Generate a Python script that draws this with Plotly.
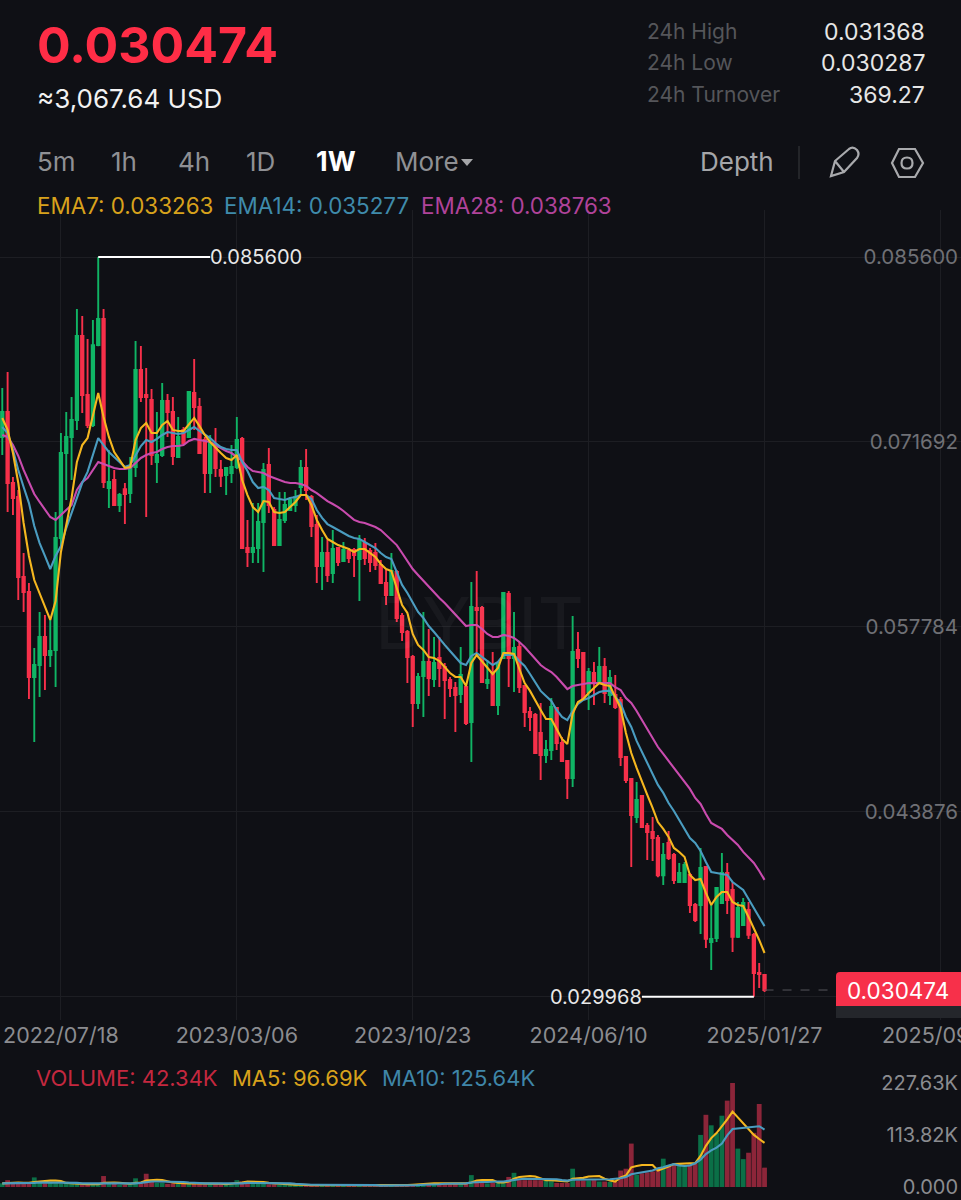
import pandas as pd
import plotly.graph_objects as go
from plotly.subplots import make_subplots

WIDTH = 961
HEIGHT = 1200
FONT = 'Inter'
BG = '#0f1015'
RED = '#f7304a'
GREEN = '#10b565'
VOL_RED = '#8c2539'
VOL_GREEN = '#0b6f47'
EMA7_COLOR = '#f5b71f'
EMA14_COLOR = '#4a9cc0'
EMA28_COLOR = '#c94bae'

# prices are in thousandths, divided by 1000 when plotted
opens = [72.07, 73.95, 68.61, 67.55, 61.54, 60.41, 54.02, 54.92, 57.03, 55.67, 56.05, 64.47, 70.86, 72.07, 73.35, 79.66,
         75.23, 72.97, 78.98, 80.94, 68.23, 68.83, 66.95, 68.15, 67.85, 69.81, 77.11, 75.23, 74.85, 70.19, 70.71, 74.77,
         73.95, 70.56, 72.60, 72.07, 75.38, 74.32, 71.84, 69.36, 71.24, 69.59, 69.21, 69.36, 69.81, 71.92, 63.72, 63.42,
         63.72, 65.68, 69.96, 66.58, 63.94, 65.83, 66.58, 66.95, 68.31, 69.74, 67.55, 65.45, 62.36, 63.34, 61.84, 63.72,
         62.74, 63.49, 63.57, 62.89, 64.09, 63.49, 63.34, 62.44, 61.09, 60.18, 61.91, 58.61, 57.40, 55.52, 52.06, 54.09,
         55.15, 53.87, 55.45, 54.77, 53.79, 53.19, 52.74, 53.26, 50.63, 59.21, 59.21, 53.56, 54.39, 51.91, 55.45, 60.26,
         55.45, 56.27, 53.34, 51.38, 51.16, 49.81, 48.15, 48.53, 51.69, 49.05, 47.70, 46.42, 56.05, 55.82, 52.89, 54.32,
         53.56, 54.77, 52.66, 52.66, 52.29, 48.00, 46.35, 43.49, 45.07, 42.81, 42.36, 41.91, 39.11, 41.53, 40.63, 38.60,
         38.60, 39.13, 36.87, 36.87, 39.73, 34.09, 34.39, 37.02, 39.28, 38.00, 34.47, 35.37, 36.50, 34.62, 31.76, 31.61]
closes = [73.95, 68.61, 67.48, 61.54, 60.41, 54.02, 54.92, 57.03, 55.67, 55.97, 64.47, 70.86, 72.07, 73.35, 79.66, 75.23,
          72.97, 78.98, 80.94, 68.68, 68.68, 66.95, 67.70, 67.78, 69.81, 77.11, 75.08, 75.08, 70.71, 70.71, 74.77, 73.95,
          70.64, 72.07, 71.61, 75.45, 74.32, 70.86, 69.36, 71.61, 69.74, 69.14, 69.74, 69.81, 71.84, 63.72, 63.42, 63.72,
          65.68, 69.59, 66.95, 63.94, 65.83, 66.95, 67.33, 67.55, 69.74, 68.08, 65.37, 62.36, 63.34, 61.69, 63.64, 62.66,
          63.57, 62.97, 63.19, 64.32, 62.97, 62.66, 62.44, 61.09, 60.18, 61.99, 58.46, 57.40, 55.52, 52.06, 54.02, 55.15,
          53.94, 55.07, 54.69, 53.79, 53.19, 52.66, 54.17, 50.56, 59.28, 59.06, 53.64, 53.79, 51.91, 55.00, 60.33, 55.45,
          56.20, 53.26, 51.38, 51.01, 48.30, 48.15, 48.53, 51.76, 49.05, 47.70, 46.42, 55.90, 55.45, 52.44, 54.39, 53.56,
          54.77, 52.81, 53.94, 51.76, 48.00, 46.27, 43.64, 44.77, 42.74, 42.36, 41.91, 39.11, 40.63, 40.40, 38.75, 39.28,
          39.88, 36.87, 35.74, 39.66, 34.32, 34.32, 38.15, 39.28, 37.25, 34.47, 36.65, 37.02, 34.62, 31.76, 31.68, 30.47]
highs = [75.75, 76.96, 69.06, 68.08, 63.34, 61.09, 56.20, 58.91, 58.68, 58.31, 66.43, 72.37, 73.95, 75.08, 81.69, 81.17,
         79.43, 80.87, 85.60, 81.69, 71.09, 69.59, 67.85, 68.61, 70.56, 79.28, 78.91, 77.26, 75.68, 73.95, 76.13, 75.30,
         75.08, 73.57, 72.82, 75.53, 77.93, 75.00, 72.07, 72.22, 72.74, 70.34, 69.81, 71.46, 73.57, 72.07, 65.83, 67.10,
         67.10, 70.11, 71.24, 66.80, 67.93, 67.93, 67.55, 68.08, 70.34, 71.16, 67.70, 66.20, 64.54, 64.32, 65.07, 63.72,
         64.17, 63.72, 63.72, 64.69, 64.47, 63.72, 64.09, 62.82, 62.06, 63.34, 62.06, 58.83, 57.55, 55.67, 54.32, 58.91,
         57.63, 57.03, 57.03, 55.07, 54.02, 53.64, 56.27, 53.56, 61.16, 61.99, 59.36, 55.30, 55.90, 55.15, 60.33, 60.48,
         58.91, 56.65, 53.41, 51.76, 51.31, 52.06, 49.28, 52.44, 51.76, 49.50, 47.78, 58.61, 57.40, 55.82, 54.69, 55.15,
         56.27, 55.45, 54.54, 54.17, 52.51, 48.00, 46.35, 46.12, 45.07, 43.04, 43.49, 42.13, 41.53, 42.43, 40.78, 40.03,
         40.10, 39.28, 37.02, 41.16, 39.73, 36.87, 38.23, 40.78, 40.03, 38.60, 37.10, 37.40, 37.10, 34.77, 32.51, 31.61]
lows = [70.71, 66.43, 66.20, 59.81, 58.91, 52.36, 49.13, 52.51, 53.04, 54.77, 53.26, 63.94, 67.33, 68.83, 72.60, 73.87,
        72.74, 72.82, 78.90, 68.23, 66.73, 66.95, 66.43, 65.52, 67.10, 69.06, 74.70, 66.05, 69.96, 68.61, 70.56, 72.07,
        69.96, 70.49, 71.46, 72.00, 72.60, 70.80, 67.85, 67.85, 69.06, 68.31, 67.70, 68.61, 69.66, 63.72, 62.29, 62.59,
        62.59, 61.92, 66.35, 63.90, 63.90, 65.60, 66.55, 66.43, 67.70, 67.33, 64.54, 61.09, 60.56, 61.16, 61.09, 62.36,
        62.66, 62.59, 61.54, 59.73, 62.44, 61.91, 62.06, 61.01, 59.43, 60.11, 58.16, 56.72, 53.56, 50.26, 51.61, 51.01,
        52.59, 53.26, 53.26, 50.86, 52.51, 49.88, 52.06, 50.41, 47.63, 55.90, 53.56, 53.11, 51.85, 51.16, 55.38, 53.26,
        52.89, 52.81, 50.26, 49.96, 48.27, 46.27, 47.55, 47.78, 48.53, 47.63, 44.84, 45.74, 54.69, 52.36, 51.54, 51.91,
        53.49, 52.06, 51.91, 51.61, 47.33, 46.04, 39.73, 43.04, 42.70, 40.25, 40.18, 38.96, 38.38, 40.25, 38.45, 38.53,
        38.53, 36.27, 35.59, 34.69, 33.64, 31.98, 34.09, 36.95, 36.20, 33.34, 34.39, 35.29, 34.32, 29.97, 30.63, 30.33]

ema7 = [73.50, 72.60, 70.86, 68.61, 65.60, 63.12, 61.31, 60.34, 59.28, 58.31, 59.73, 63.42, 65.45, 67.48, 70.19, 71.46,
        71.99, 73.80, 75.38, 73.57, 72.07, 70.94, 70.34, 69.74, 69.81, 71.84, 72.74, 73.12, 72.37, 72.37, 72.97, 73.27,
        72.60, 72.52, 72.52, 72.97, 73.50, 72.89, 72.22, 71.69, 71.24, 70.86, 70.49, 70.34, 70.71, 68.83, 67.70, 66.80,
        66.43, 67.25, 67.18, 66.43, 66.35, 66.43, 66.80, 67.18, 67.70, 67.70, 66.95, 65.83, 65.07, 64.40, 64.17, 63.94,
        63.79, 63.64, 63.42, 63.64, 63.64, 63.34, 63.04, 62.52, 62.14, 61.99, 60.78, 59.43, 58.83, 57.25, 56.43, 56.05,
        55.52, 55.45, 55.22, 54.77, 54.32, 54.02, 54.02, 53.34, 55.07, 55.67, 55.22, 54.77, 54.24, 54.69, 55.82, 55.82,
        55.75, 54.62, 53.56, 52.97, 52.21, 51.54, 50.86, 50.86, 50.11, 49.36, 48.98, 51.24, 52.14, 52.36, 52.81, 53.19,
        53.56, 53.41, 53.34, 52.51, 51.69, 49.81, 48.30, 47.18, 46.12, 45.15, 44.17, 43.11, 42.59, 41.99, 41.16, 40.86,
        40.48, 39.13, 38.75, 38.83, 37.78, 36.87, 37.47, 37.85, 37.85, 37.10, 36.87, 36.80, 35.97, 35.14, 34.24, 33.26]
ema14 = [72.82, 72.37, 71.09, 69.59, 68.31, 67.10, 65.37, 64.09, 63.12, 62.14, 63.12, 63.87, 65.22, 66.35, 67.63, 68.61,
         69.44, 70.71, 71.99, 71.46, 70.94, 70.56, 70.19, 69.81, 69.96, 70.71, 71.39, 71.84, 71.69, 71.92, 72.22, 72.44,
         72.37, 72.29, 72.37, 72.60, 72.82, 72.52, 72.22, 71.99, 71.61, 71.31, 71.16, 71.09, 71.09, 70.19, 69.51, 68.68,
         68.23, 68.31, 68.08, 67.48, 67.40, 67.33, 67.48, 67.55, 67.70, 67.70, 67.40, 66.58, 65.98, 65.52, 65.30, 65.07,
         64.85, 64.62, 64.47, 64.40, 64.17, 63.94, 63.72, 63.34, 63.04, 62.89, 61.84, 60.94, 60.34, 59.58, 58.91, 58.46,
         57.85, 57.40, 56.88, 56.43, 55.97, 55.52, 55.07, 54.92, 55.60, 55.82, 55.52, 55.22, 54.92, 55.15, 55.67, 55.67,
         55.67, 55.22, 54.85, 54.24, 53.64, 52.97, 52.59, 52.21, 51.54, 51.01, 50.78, 51.46, 51.99, 52.29, 52.44, 52.66,
         52.89, 52.97, 52.97, 52.51, 52.06, 51.01, 50.26, 49.21, 48.38, 47.55, 46.65, 45.90, 45.30, 44.54, 43.94, 43.27,
         42.59, 41.91, 41.53, 40.93, 40.10, 39.35, 39.28, 39.20, 39.13, 38.60, 38.30, 38.00, 37.32, 36.65, 35.97, 35.28]
ema28 = [72.22, 72.07, 71.46, 70.64, 69.59, 68.68, 67.78, 67.18, 66.58, 66.05, 65.83, 66.20, 66.58, 66.95, 68.08, 68.68,
         68.98, 69.59, 70.19, 70.04, 69.89, 69.74, 69.66, 69.66, 69.74, 70.11, 70.49, 70.71, 70.86, 70.94, 71.16, 71.31,
         71.39, 71.39, 71.46, 71.77, 71.92, 71.84, 71.77, 71.69, 71.46, 71.24, 71.01, 70.86, 70.56, 70.26, 69.81, 69.51,
         69.44, 69.36, 69.14, 68.98, 68.83, 68.68, 68.61, 68.61, 68.53, 68.38, 68.08, 67.85, 67.55, 67.25, 67.03, 66.80,
         66.50, 66.20, 65.83, 65.67, 65.60, 65.45, 65.30, 65.07, 64.69, 64.32, 63.94, 63.34, 62.74, 62.14, 61.69, 61.24,
         60.78, 60.41, 59.96, 59.58, 59.13, 58.68, 58.31, 57.85, 57.93, 57.93, 57.63, 57.25, 57.03, 57.03, 57.18, 57.10,
         56.95, 56.65, 56.27, 55.82, 55.37, 54.92, 54.62, 54.39, 54.02, 53.56, 53.11, 53.34, 53.41, 53.49, 53.56, 53.56,
         53.56, 53.56, 53.56, 53.26, 53.04, 52.44, 52.06, 51.46, 50.78, 50.11, 49.36, 48.75, 48.23, 47.70, 47.18, 46.65,
         46.12, 45.60, 44.92, 44.47, 43.72, 43.04, 42.81, 42.59, 42.14, 41.76, 41.39, 40.86, 40.41, 40.03, 39.43, 38.76]

# volume in thousands
volumes = [8, 15, 8, 8, 8, 8, 21, 9, 8, 10, 8, 7, 9, 7, 7, 5, 5, 6, 6, 24, 8, 7, 5, 5, 6, 19, 8, 29, 11, 9, 9, 7,
           8, 8, 7, 9, 8, 7, 6, 7, 6, 6, 7, 6, 15, 12, 11, 10, 9, 8, 6, 6, 5, 5, 4, 5, 5, 4, 4, 3, 3, 3, 3, 3,
           3, 2, 2, 2, 2, 2, 3, 3, 3, 3, 3, 4, 4, 5, 5, 5, 6, 6, 6, 6, 6, 7, 7, 8, 26, 9, 9, 8, 9, 9, 9, 22,
           31, 15, 15, 15, 15, 15, 14, 13, 9, 9, 9, 40, 14, 14, 14, 15, 12, 12, 11, 11, 36, 40, 95, 27, 30, 32, 34, 40,
           62, 48, 50, 52, 47, 50, 52, 114, 158, 135, 118, 156, 189, 227.6, 84, 61, 75, 118.5, 181.7, 42.34]
ma5 = [8, 9, 10, 10, 9, 9, 11, 12, 14, 14, 14, 13, 9, 8, 8, 7, 6, 6, 6, 9, 10, 10, 9, 8, 7, 9, 10, 14, 15, 16, 15, 12,
       10, 9, 8, 8, 8, 8, 8, 7, 7, 7, 6, 7, 8, 10, 12, 12, 12, 11, 9, 8, 7, 6, 5, 5, 5, 4, 4, 4, 4, 3, 3, 3,
       3, 3, 3, 3, 3, 3, 3, 3, 3, 3, 3, 4, 4, 5, 6, 7, 8, 8, 8, 8, 8, 8, 8, 8, 10, 14, 15, 15, 15, 10, 10, 12,
       18, 22, 23, 24, 23, 19, 15, 15, 14, 13, 12, 18, 19, 20, 23, 24, 24, 18, 14, 12, 21, 25, 43, 46, 48, 48, 48, 36,
       40, 45, 50, 51, 52, 52, 52, 68, 90, 107, 118, 132, 148, 165, 152, 140, 126, 114, 105, 96.69]
ma10 = [8, 8, 9, 9, 9, 9, 9, 10, 10, 10, 10, 10, 10, 9, 9, 8, 8, 7, 7, 8, 8, 8, 7, 7, 7, 8, 9, 11, 12, 12, 12, 12,
        12, 11, 11, 10, 9, 9, 8, 8, 8, 8, 7, 7, 8, 8, 9, 9, 9, 9, 9, 9, 8, 8, 8, 7, 6, 6, 5, 5, 5, 5, 5, 5,
        5, 4, 4, 4, 4, 4, 4, 3, 3, 3, 3, 3, 4, 4, 4, 5, 5, 6, 6, 7, 7, 7, 8, 8, 10, 11, 11, 11, 12, 12, 12, 14,
        16, 17, 18, 18, 18, 18, 18, 18, 17, 15, 14, 16, 16, 17, 17, 17, 17, 17, 17, 18, 19, 22, 28, 30, 32, 34, 36, 41,
        43, 47, 50, 47, 46, 47, 52, 60, 72, 80, 86, 95, 113, 127, 128, 129, 130, 132, 133, 125.64]

x_tick_dates = ['2022-07-18', '2023-03-06', '2023-10-23', '2024-06-10', '2025-01-27', '2025-09-15']
x_tick_labels = ['2022/07/18', '2023/03/06', '2023/10/23', '2024/06/10', '2025/01/27', '2025/09/15']
price_ticks = [0.0856, 0.071692, 0.057784, 0.043876, 0.029968]
price_labels = ['0.085600', '0.071692', '0.057784', '0.043876', '']
volume_ticks = [0, 113.82, 227.63]
volume_labels = ['0.000', '113.82K', '227.63K']

high_price = 0.0856
low_price = 0.029968
last_price = 0.030474

dates = pd.date_range(end='2025-01-27', periods=len(closes), freq='7D')


def px(x, y):
    return x / WIDTH, 1 - y / HEIGHT


def label(text, x, y, size, color, anchor='left'):
    xp, yp = px(x, y)
    # annotations carry a little padding, this takes it back out
    shift = {'left': -2, 'right': 2, 'center': 0}[anchor]
    fig.add_annotation(text=text, x=xp, y=yp, xref='paper', yref='paper', xanchor=anchor, yanchor='middle',
                       xshift=shift, showarrow=False, font=dict(family=FONT, size=size, color=color))


def outline(path, color, width=2, fill=None):
    # path is a list of ('M', x, y) style steps given in screen pixels
    parts = []
    for step in path:
        if step[0] == 'Z':
            parts.append('Z')
        else:
            coords = []
            for i in range(1, len(step), 2):
                xp, yp = px(step[i], step[i + 1])
                coords.append('%.5f,%.5f' % (xp, yp))
            parts.append(step[0] + ' '.join(coords))
    fig.add_shape(type='path', path=' '.join(parts), xref='paper', yref='paper',
                  line=dict(color=color, width=width), fillcolor=fill)


fig = make_subplots(rows=2, cols=1, shared_xaxes=True)

fig.add_trace(go.Candlestick(x=dates,
                             open=[v / 1000 for v in opens],
                             high=[v / 1000 for v in highs],
                             low=[v / 1000 for v in lows],
                             close=[v / 1000 for v in closes],
                             increasing=dict(line=dict(color=GREEN, width=1.9), fillcolor=GREEN),
                             decreasing=dict(line=dict(color=RED, width=1.9), fillcolor=RED),
                             whiskerwidth=0, hoverinfo='skip'), row=1, col=1)
for series, color in ((ema28, EMA28_COLOR), (ema14, EMA14_COLOR), (ema7, EMA7_COLOR)):
    fig.add_trace(go.Scatter(x=dates, y=[v / 1000 for v in series], mode='lines',
                             line=dict(color=color, width=2.1), hoverinfo='skip'), row=1, col=1)

bar_colors = [VOL_GREEN if c >= o else VOL_RED for o, c in zip(opens, closes)]
fig.add_trace(go.Bar(x=dates, y=volumes, marker=dict(color=bar_colors, line=dict(width=0)), hoverinfo='skip'),
              row=2, col=1)
fig.add_trace(go.Scatter(x=dates, y=ma5, mode='lines', line=dict(color=EMA7_COLOR, width=2.1), hoverinfo='skip'),
              row=2, col=1)
fig.add_trace(go.Scatter(x=dates, y=ma10, mode='lines', line=dict(color=EMA14_COLOR, width=2.1), hoverinfo='skip'),
              row=2, col=1)

fig.update_layout(width=WIDTH, height=HEIGHT, margin=dict(l=0, r=0, t=0, b=0, autoexpand=False), showlegend=False,
                  paper_bgcolor=BG, plot_bgcolor=BG, boxgap=0.35, bargap=0.1,
                  font=dict(family=FONT))

x_range = ['2022-04-29', '2025-10-12']
fig.update_xaxes(row=1, col=1, range=x_range, rangeslider_visible=False, tickvals=x_tick_dates,
                 ticktext=x_tick_labels, showticklabels=True, ticklabeloverflow='allow', showgrid=True,
                 automargin=False, gridcolor='#1d1e23', gridwidth=1, zeroline=False, showline=False,
                 tickfont=dict(family=FONT, size=21.5, color='#8b8c90'))
fig.update_xaxes(row=2, col=1, range=x_range, showgrid=False, zeroline=False, showline=False,
                 automargin=False, showticklabels=False, tickvals=x_tick_dates)
fig.update_yaxes(row=1, col=1, domain=[0.15, 0.825], range=[0.02822, 0.08914], side='right',
                 tickvals=price_ticks, ticktext=price_labels, ticklabelposition='inside', automargin=False,
                 ticklabeloverflow='allow', showgrid=True, gridcolor='#1d1e23', zeroline=False, showline=False,
                 tickfont=dict(family=FONT, size=20.5, color='#6f7075'))
fig.update_yaxes(row=2, col=1, domain=[1 - 1187 / HEIGHT, 1 - 1075 / HEIGHT], range=[0, 245.1], side='right',
                 tickvals=volume_ticks, ticktext=volume_labels, ticklabelposition='inside', automargin=False,
                 ticklabeloverflow='allow', showgrid=False, zeroline=False, showline=False,
                 tickfont=dict(family=FONT, size=20, color='#8b8c90'))

# high and low markers
fig.add_shape(type='line', xref='x', yref='y', x0=dates[18], x1=dates[18] + pd.Timedelta(weeks=21),
              y0=high_price, y1=high_price, line=dict(color='#ffffff', width=2))
fig.add_shape(type='line', xref='x', yref='y', x0=dates[141], x1=dates[141] - pd.Timedelta(weeks=21),
              y0=low_price, y1=low_price, line=dict(color='#ffffff', width=2))
fig.add_annotation(text='0.085600', x=dates[18] + pd.Timedelta(weeks=21), y=high_price, xref='x', yref='y',
                   xanchor='left', yanchor='middle', showarrow=False, xshift=-2,
                   font=dict(family=FONT, size=20, color='#e8e8e8'))
fig.add_annotation(text='0.029968', x=dates[141] - pd.Timedelta(weeks=21), y=low_price, xref='x', yref='y',
                   xanchor='right', yanchor='middle', showarrow=False, xshift=2,
                   font=dict(family=FONT, size=20, color='#e8e8e8'))

# last price line and tag
fig.add_shape(type='line', xref='x', yref='y', x0=dates[143], x1=dates[143] + pd.Timedelta(weeks=13),
              y0=last_price, y1=last_price, line=dict(color='#55565b', width=1, dash='dash'))
outline([('M', 836, 1006), ('L', 836, 1018), ('L', 961, 1018), ('L', 961, 1006), ('Z',)], '#24262b', 0, '#24262b')
outline([('M', 836, 1006), ('L', 836, 976), ('Q', 836, 972, 840, 972), ('L', 961, 972), ('L', 961, 1006), ('Z',)],
        RED, 0, RED)
label('0.030474', 898, 990, 22.5, '#ffffff', 'center')

label('BYBIT', 479, 622, 72, 'rgba(255,255,255,0.04)', 'center')

# header
label('<b>0.030474</b>', 37, 45, 50, '#ff2d46')
label('≈3,067.64 USD', 37, 98, 26, '#f2f2f2')
for text, x in (('5m', 37), ('1h', 111), ('4h', 178), ('1D', 246), ('More', 395)):
    label(text, x, 161, 26, '#8f9094')
label('<b>1W</b>', 316, 161, 27, '#ffffff')
outline([('M', 461, 159), ('L', 473, 159), ('L', 467, 166), ('Z',)], '#a5a6a9', 0, '#a5a6a9')
label('EMA7: 0.033263', 37, 205, 22.4, '#d8a21c')
label('EMA14: 0.035277', 224, 205, 22.4, '#3f8bab')
label('EMA28: 0.038763', 421, 205, 22.4, '#b0439a')

for text, value, y in (('24h High', '0.031368', 32), ('24h Low', '0.030287', 63), ('24h Turnover', '369.27', 95)):
    label(text, 647, y, 21, '#55565a')
    label(value, 925, y, 23, '#e6e6e6', 'right')

label('Depth', 700, 161, 26, '#a5a6a9')
outline([('M', 799, 146), ('L', 799, 179)], '#2c2d31', 1.5)
# pencil
outline([('M', 831, 176), ('L', 835, 161), ('L', 849, 149), ('Q', 853, 146, 857, 150), ('Q', 860, 154, 857, 158),
         ('L', 844, 172), ('Z',), ('M', 835, 161), ('L', 844, 172)], '#a9aaad', 2.2)
# settings hexagon
outline([('M', 892, 163), ('L', 899, 149), ('L', 915, 149), ('L', 923, 163), ('L', 915, 177), ('L', 899, 177),
         ('Z',)], '#a9aaad', 2.2)
outline([('M', 901.5, 163), ('Q', 901.5, 157.5, 907, 157.5), ('Q', 912.5, 157.5, 912.5, 163),
         ('Q', 912.5, 168.5, 907, 168.5), ('Q', 901.5, 168.5, 901.5, 163), ('Z',)], '#a9aaad', 2.2)

# volume header
label('VOLUME: 42.34K', 36, 1078, 22, '#c4283f')
label('MA5: 96.69K', 232, 1078, 22, '#d8a21c')
label('MA10: 125.64K', 382, 1078, 22, '#3f86a8')

fig.write_html('out.html', config={'displayModeBar': False},
               post_script="document.body.style.margin='0';document.body.style.background='%s';" % BG)
